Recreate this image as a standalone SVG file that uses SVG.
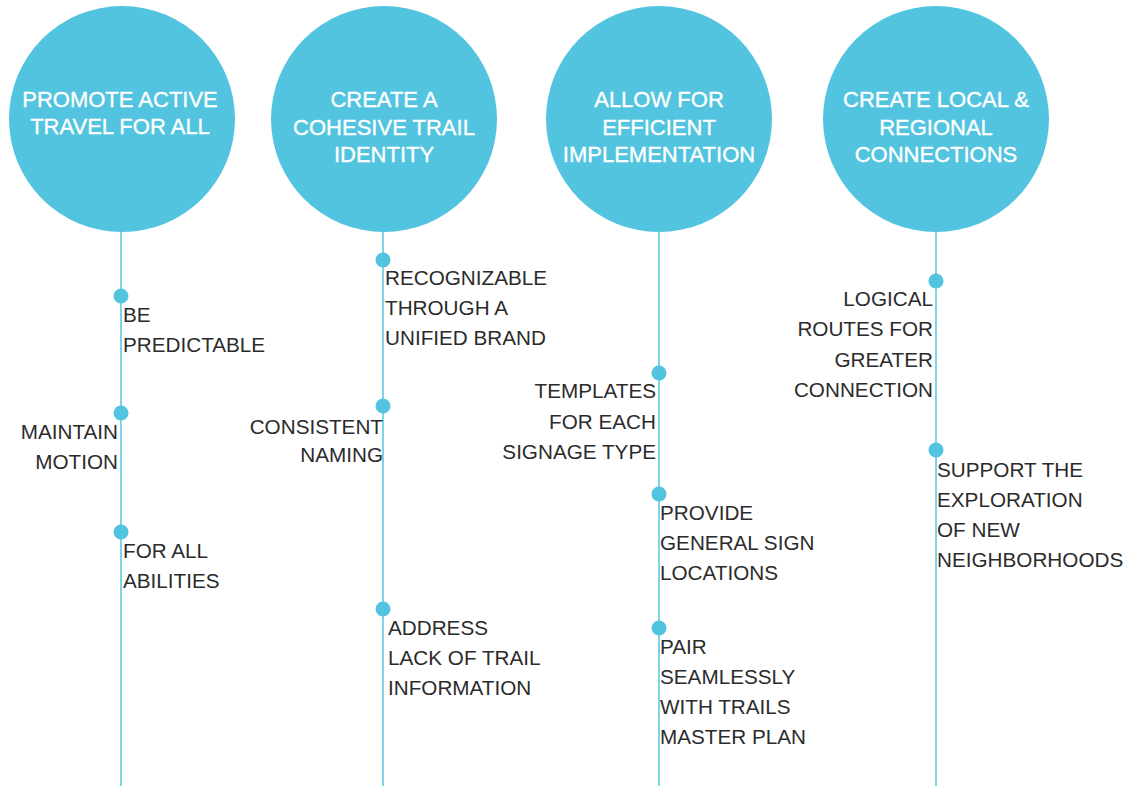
<svg xmlns="http://www.w3.org/2000/svg" width="1127" height="786" viewBox="0 0 1127 786">
<style>
.circ{fill:#52C4DF}
.line{stroke:#52C4DF;stroke-width:1.5;fill:none}
.dot{fill:#52C4DF}
.ht{font-family:"Liberation Sans",Arial,sans-serif;font-size:22px;fill:#ffffff;stroke:#ffffff;stroke-width:0.35;text-anchor:middle}
.t{font-family:"Liberation Sans",Arial,sans-serif;font-size:20.7px;fill:#2b2b2b}
.r{text-anchor:end}
</style>
<rect width="1127" height="786" fill="#ffffff"/>
<g id="connectors">
<line class="line" x1="121" y1="230" x2="121" y2="786"/>
<line class="line" x1="383" y1="230" x2="383" y2="786"/>
<line class="line" x1="659" y1="230" x2="659" y2="786"/>
<line class="line" x1="936" y1="230" x2="936" y2="786"/>
</g>
<g id="goal1">
<circle class="circ" cx="122" cy="119" r="113"/>
<text class="ht" x="120" y="107">PROMOTE ACTIVE</text>
<text class="ht" x="120" y="134">TRAVEL FOR ALL</text>
</g>
<g id="goal2">
<circle class="circ" cx="384" cy="119" r="113"/>
<text class="ht" x="384" y="107">CREATE A</text>
<text class="ht" x="384" y="135">COHESIVE TRAIL</text>
<text class="ht" x="384" y="162">IDENTITY</text>
</g>
<g id="goal3">
<circle class="circ" cx="659" cy="119" r="113"/>
<text class="ht" x="659" y="107">ALLOW FOR</text>
<text class="ht" x="659" y="135">EFFICIENT</text>
<text class="ht" x="659" y="162">IMPLEMENTATION</text>
</g>
<g id="goal4">
<circle class="circ" cx="936" cy="119" r="113"/>
<text class="ht" x="936" y="107">CREATE LOCAL &amp;</text>
<text class="ht" x="936" y="135">REGIONAL</text>
<text class="ht" x="936" y="162">CONNECTIONS</text>
</g>
<g id="n1a"><circle class="dot" cx="121" cy="296" r="7.5"/>
<text class="t" x="123" y="322">BE</text><text class="t" x="123" y="352">PREDICTABLE</text></g>
<g id="n1b"><circle class="dot" cx="121" cy="413" r="7.5"/>
<text class="t r" x="118" y="439">MAINTAIN</text><text class="t r" x="118" y="469">MOTION</text></g>
<g id="n1c"><circle class="dot" cx="121" cy="532" r="7.5"/>
<text class="t" x="123" y="558">FOR ALL</text><text class="t" x="123" y="588">ABILITIES</text></g>
<g id="n2a"><circle class="dot" cx="383" cy="260" r="7.5"/>
<text class="t" x="385" y="285">RECOGNIZABLE</text><text class="t" x="385" y="315">THROUGH A</text><text class="t" x="385" y="345">UNIFIED BRAND</text></g>
<g id="n2b"><circle class="dot" cx="383" cy="406" r="7.5"/>
<text class="t r" x="383" y="434">CONSISTENT</text><text class="t r" x="383" y="462">NAMING</text></g>
<g id="n2c"><circle class="dot" cx="383" cy="609" r="7.5"/>
<text class="t" x="388" y="635">ADDRESS</text><text class="t" x="388" y="665">LACK OF TRAIL</text><text class="t" x="388" y="695">INFORMATION</text></g>
<g id="n3a"><circle class="dot" cx="659" cy="373" r="7.5"/>
<text class="t r" x="656" y="398">TEMPLATES</text><text class="t r" x="656" y="429">FOR EACH</text><text class="t r" x="656" y="459">SIGNAGE TYPE</text></g>
<g id="n3b"><circle class="dot" cx="659" cy="494" r="7.5"/>
<text class="t" x="660" y="520">PROVIDE</text><text class="t" x="660" y="550">GENERAL SIGN</text><text class="t" x="660" y="580">LOCATIONS</text></g>
<g id="n3c"><circle class="dot" cx="659" cy="628" r="7.5"/>
<text class="t" x="660" y="654">PAIR</text><text class="t" x="660" y="684">SEAMLESSLY</text><text class="t" x="660" y="714">WITH TRAILS</text><text class="t" x="660" y="744">MASTER PLAN</text></g>
<g id="n4a"><circle class="dot" cx="936" cy="281" r="7.5"/>
<text class="t r" x="933" y="306">LOGICAL</text><text class="t r" x="933" y="336">ROUTES FOR</text><text class="t r" x="933" y="367">GREATER</text><text class="t r" x="933" y="397">CONNECTION</text></g>
<g id="n4b"><circle class="dot" cx="936" cy="450" r="7.5"/>
<text class="t" x="937" y="477">SUPPORT THE</text><text class="t" x="937" y="507">EXPLORATION</text><text class="t" x="937" y="537">OF NEW</text><text class="t" x="937" y="567">NEIGHBORHOODS</text></g>
</svg>
